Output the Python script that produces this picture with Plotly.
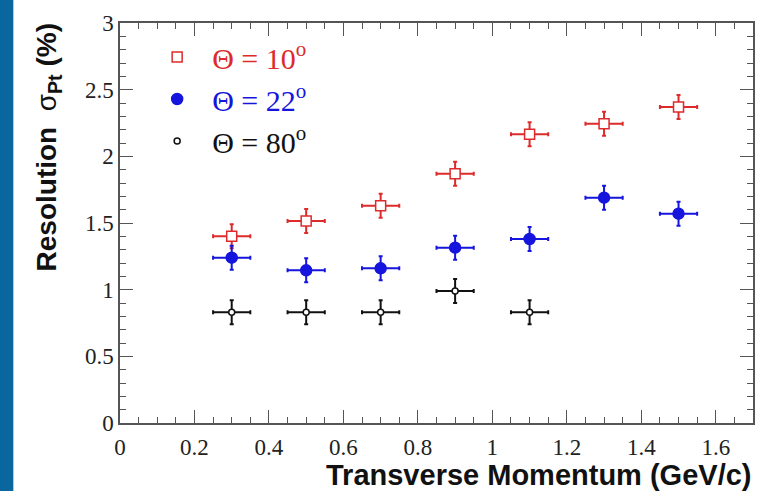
import plotly.graph_objects as go

pt = [0.3, 0.5, 0.7, 0.9, 1.1, 1.3, 1.5]
pt80 = [0.3, 0.5, 0.7, 0.9, 1.1]
res10 = [1.40, 1.515, 1.63, 1.87, 2.165, 2.245, 2.37]
res22 = [1.24, 1.145, 1.16, 1.315, 1.38, 1.69, 1.57]
res80 = [0.83, 0.83, 0.83, 0.99, 0.83]
xerr = 0.05
yerr = 0.09

RED = "#dd2b2b"
BLUE = "#1515dd"
BLACK = "#111111"

fig = go.Figure()

def add(x, y, name, color, symbol, size, fill):
    fig.add_trace(go.Scatter(
        x=x, y=y, mode="markers", name=name, legendgroup=name,
        marker=dict(symbol=symbol, size=size, color=fill,
                    line=dict(color=color, width=1.5)),
        error_x=dict(type="constant", value=xerr, color=color, thickness=2, width=2),
        error_y=dict(type="constant", value=yerr, color=color, thickness=2, width=2),
    ))

add(pt, res10, f"<span style='color:{RED}'>Θ = 10<sup>o</sup></span>", RED, "square", 10, "white")
add(pt, res22, f"<span style='color:{BLUE}'>Θ = 22<sup>o</sup></span>", BLUE, "circle", 11, BLUE)
add(pt80, res80, f"<span style='color:{BLACK}'>Θ = 80<sup>o</sup></span>", BLACK, "circle", 6, "white")

axis_common = dict(
    showgrid=False, zeroline=False, showline=True, linecolor="#555555", linewidth=1.5,
    mirror="allticks", ticks="inside", ticklen=13, tickwidth=1.2, tickcolor="#555555",
    tickfont=dict(family="Liberation Serif", size=23, color="#222222"),
)

fig.update_xaxes(range=[0, 1.7], dtick=0.2, tick0=0, ticklabelstandoff=3,
                 minor=dict(dtick=0.05, ticks="inside", ticklen=6, tickcolor="#555555", tickwidth=1.2),
                 **axis_common)
fig.update_yaxes(range=[0, 3], dtick=0.5, tick0=0,
                 minor=dict(dtick=0.1, ticks="inside", ticklen=6, tickcolor="#555555", tickwidth=1.2),
                 **axis_common)

fig.add_annotation(
    text="<b>Transverse Momentum (GeV/c)</b>", xref="paper", yref="paper",
    x=1.0, y=-0.084, xanchor="right", yanchor="top", showarrow=False,
    font=dict(family="Liberation Sans", size=29, color="#111111"),
)
fig.add_annotation(
    text="<b>Resolution</b>  σ<sub><b>Pt</b></sub> <b>(%)</b>", xref="paper", yref="paper",
    x=-0.113, y=1.005, xanchor="center", yanchor="top", textangle=-90, showarrow=False,
    font=dict(family="Liberation Sans", size=28, color="#111111"),
)

fig.add_shape(type="rect", xref="paper", yref="paper",
              x0=-0.19, x1=-0.1685, y0=-0.2, y1=1.1,
              fillcolor="#0a669e", line=dict(width=0), layer="below")

fig.update_layout(
    width=766, height=491,
    margin=dict(l=120, r=11, t=17, b=68),
    paper_bgcolor="white", plot_bgcolor="white",
    showlegend=True,
    legend=dict(x=0.035, y=0.98, xanchor="left", yanchor="top",
                bgcolor="rgba(0,0,0,0)", tracegroupgap=0, itemwidth=60,
                font=dict(family="Liberation Serif", size=30, color="#111111")),
)

fig.write_html("out.html")
